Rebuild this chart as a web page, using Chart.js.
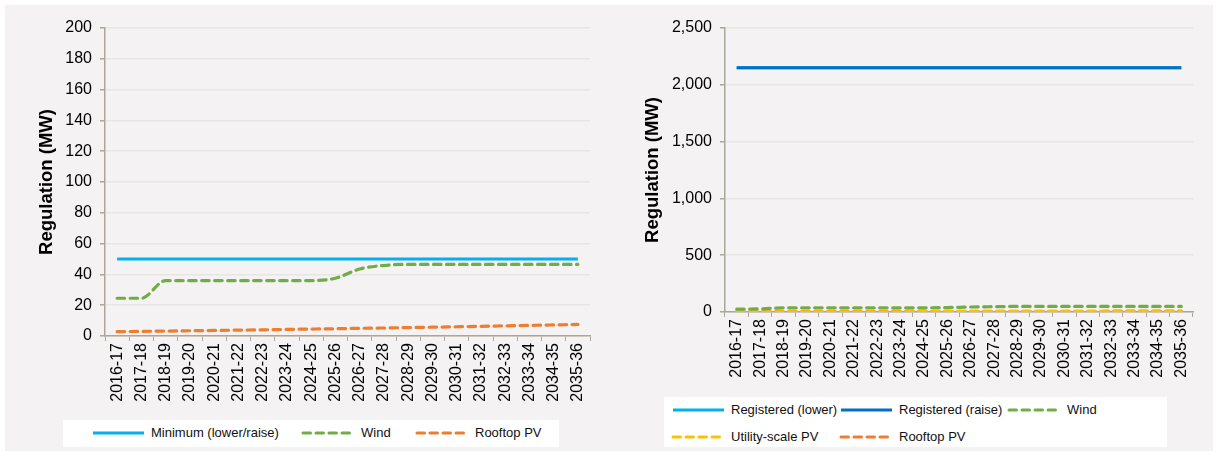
<!DOCTYPE html>
<html>
<head>
<meta charset="utf-8">
<script src="https://cdn.jsdelivr.net/npm/chart.js@4"></script>
<style>
  body { margin: 0; background: #fff; font-family: "Liberation Sans", Arial, sans-serif; }
  #bg { position: absolute; left: 5px; top: 5px; width: 1208px; height: 446px; background: #f4f2f2; }
  .wrap { position: absolute; top: 0; }
  .legend { position: absolute; background: #fff; font-size: 13px; color: #111; }
  .item { position: absolute; display: flex; align-items: center; white-space: nowrap; }
  .item svg { margin-right: 5px; }
</style>
</head>
<body>
<div id="bg"></div>
<div class="wrap" style="left:0;width:605px;height:416px"><canvas id="leftChart"></canvas></div>
<div class="wrap" style="left:605px;width:613px;height:392px"><canvas id="rightChart"></canvas></div>
<div id="leftLegend" class="legend" style="left:63px;top:420px;width:496px;height:27px"></div>
<div id="rightLegend" class="legend" style="left:664px;top:397px;width:503px;height:50px"></div>

<script>
const years = ['2016-17', '2017-18', '2018-19', '2019-20', '2020-21', '2021-22', '2022-23', '2023-24',
    '2024-25', '2025-26', '2026-27', '2027-28', '2028-29', '2029-30', '2030-31', '2031-32',
    '2032-33', '2033-34', '2034-35', '2035-36'];

// left chart
const minimumLowerRaise = [50, 50, 50, 50, 50, 50, 50, 50, 50, 50, 50, 50, 50, 50, 50, 50, 50, 50, 50, 50];
const windLeft = [24.5, 24.5, 36, 36, 36, 36, 36, 36, 36, 37.5, 43.5, 45.8, 46.5, 46.5, 46.5, 46.5, 46.5, 46.5, 46.5, 46.5];
const rooftopLeft = [2.8, 3.0, 3.2, 3.4, 3.6, 3.8, 4.0, 4.3, 4.5, 4.7, 5.0, 5.2, 5.5, 5.7, 6.0, 6.3, 6.6, 6.9, 7.2, 7.5];
const leftTicks = { max: 200, step: 20 };

// right chart
const registeredLower = [2150, 2150, 2150, 2150, 2150, 2150, 2150, 2150, 2150, 2150, 2150, 2150, 2150, 2150, 2150, 2150, 2150, 2150, 2150, 2150];
const registeredRaise = [2150, 2150, 2150, 2150, 2150, 2150, 2150, 2150, 2150, 2150, 2150, 2150, 2150, 2150, 2150, 2150, 2150, 2150, 2150, 2150];
const windRight = [26, 27, 37, 37, 37, 37, 37, 37, 37, 39, 44, 47, 49, 49, 49, 49, 49, 49, 49, 49];
const utilityPV = [1, 1, 1, 2, 2, 2, 2, 2, 3, 3, 3, 3, 3, 3, 4, 4, 4, 4, 4, 4];
const rooftopRight = [3, 3, 3, 4, 4, 4, 4, 5, 5, 5, 5, 5, 6, 6, 6, 6, 7, 7, 7, 7];
const rightTicks = { max: 2500, step: 500 };

const AXIS = '#aca59b';
const GRID = '#e8e5e2';
const DASH = [7.5, 5.5];

function series(label, data, color, dashed, order) {
    return {
        label: label, data: data, borderColor: color, backgroundColor: color,
        borderWidth: 3.2, borderDash: dashed ? DASH : [], borderCapStyle: dashed ? 'round' : 'butt',
        pointRadius: 0, tension: 0.4, cubicInterpolationMode: 'monotone', fill: false, order: order || 1
    };
}

function makeChart(id, datasets, ticks, padLeft, yWidth, padRight, xHeight) {
    return new Chart(document.getElementById(id), {
        type: 'line',
        data: { labels: years, datasets: datasets },
        options: {
            responsive: true,
            maintainAspectRatio: false,
            animation: false,
            layout: { padding: { left: padLeft, right: padRight, top: 28, bottom: 0 } },
            plugins: { legend: { display: false }, tooltip: { enabled: false } },
            scales: {
                x: {
                    offset: true,
                    grid: { offset: true, drawOnChartArea: false, tickLength: 5, color: AXIS },
                    border: { color: AXIS, width: 1.5 },
                    ticks: { minRotation: 90, maxRotation: 90, autoSkip: false, padding: 2,
                        color: '#000', font: { family: 'Liberation Sans', size: 16 } },
                    afterFit: function (s) { s.height = xHeight; }
                },
                y: {
                    min: 0, max: ticks.max,
                    grid: { color: GRID, lineWidth: 1.5, tickColor: AXIS, tickLength: 5 },
                    border: { color: AXIS, width: 1.5 },
                    ticks: { stepSize: ticks.step, padding: 8, color: '#000',
                        font: { family: 'Liberation Sans', size: 16 } },
                    title: { display: true, text: 'Regulation (MW)', color: '#000', padding: { top: 0, bottom: 0 },
                        font: { family: 'Liberation Sans', size: 18.5, weight: 'bold' } },
                    afterFit: function (s) { s.width = yWidth; }
                }
            }
        }
    });
}

const leftSets = [
    series('Minimum (lower/raise)', minimumLowerRaise, '#00b0f0', false),
    series('Wind', windLeft, '#70ad47', true),
    series('Rooftop PV', rooftopLeft, '#ed7d31', true)
];
const rightSets = [
    series('Registered (lower)', registeredLower, '#00b0f0', false, 2),
    series('Registered (raise)', registeredRaise, '#0070c0', false, 0),
    series('Wind', windRight, '#70ad47', true, 1),
    series('Utility-scale PV', utilityPV, '#ffc000', true, 1),
    series('Rooftop PV', rooftopRight, '#ed7d31', true, 1)
];

makeChart('leftChart', leftSets, leftTicks, 36, 69, 15, 80);
makeChart('rightChart', rightSets, rightTicks, 37, 83, 25, 80);

function legendItem(ds, x, y) {
    const dash = ds.borderDash.length ? 'stroke-dasharray="' + ds.borderDash.join(' ') + '" stroke-linecap="round"' : '';
    const el = document.createElement('div');
    el.className = 'item';
    el.style.left = x + 'px';
    el.style.top = y + 'px';
    el.innerHTML = '<svg width="55" height="6"><line x1="2" y1="3" x2="53" y2="3" stroke="' + ds.borderColor +
        '" stroke-width="3" ' + dash + '/></svg><span>' + ds.label + '</span>';
    return el;
}

const leftLeg = document.getElementById('leftLegend');
[28, 238, 352].forEach(function (x, i) { leftLeg.appendChild(legendItem(leftSets[i], x, 5)); });

const rightLeg = document.getElementById('rightLegend');
const rightPos = [[7, 5], [175, 5], [343, 5], [7, 32], [175, 32]];
rightPos.forEach(function (p, i) { rightLeg.appendChild(legendItem(rightSets[i], p[0], p[1])); });
</script>
</body>
</html>
